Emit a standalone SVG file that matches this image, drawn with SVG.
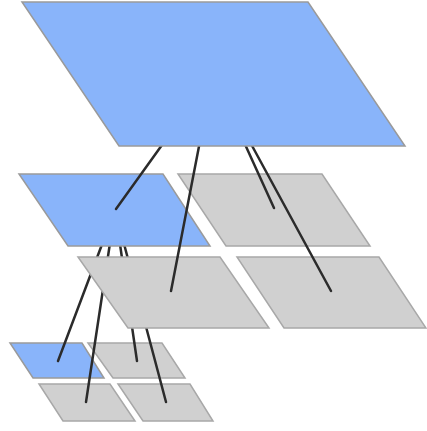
<svg xmlns="http://www.w3.org/2000/svg" width="427" height="431" viewBox="0 0 427 431">
<style>
.blue{fill:#89b4fa;stroke:#9a9a9a;stroke-width:1.5}
.gray{fill:#d0d0d0;stroke:#a8a8a8;stroke-width:1.5}
.link{stroke:#2b2b2b;stroke-width:2.5;stroke-linecap:round;fill:none}
</style>
<rect width="427" height="431" fill="#ffffff"/>
<g id="level3">
<g id="l3-a"><polygon class="blue" points="10,343 82,343 104,378 33,378"/></g>
<g id="l3-b"><polygon class="gray" points="88,343 162,343 185,378 113,378"/></g>
<g id="l3-c"><polygon class="gray" points="39,384 110,384 135,421 63,421"/></g>
<g id="l3-d"><polygon class="gray" points="118,384 190,384 213,421 143,421"/></g>
</g>
<g id="connectors-mid">
<line class="link" x1="115" y1="210" x2="58" y2="361"/>
<line class="link" x1="115" y1="210" x2="137" y2="361"/>
<line class="link" x1="115" y1="210" x2="86" y2="402"/>
<line class="link" x1="115" y1="210" x2="166" y2="402"/>
</g>
<g id="level2">
<g id="l2-a"><polygon class="blue" points="19,174 163,174 210,246 68,246"/></g>
<g id="l2-b"><polygon class="gray" points="178,174 322,174 370,246 226,246"/></g>
<g id="l2-c"><polygon class="gray" points="78,257 220,257 269,328 128,328"/></g>
<g id="l2-d"><polygon class="gray" points="237,257 379,257 426,328 284,328"/></g>
</g>
<g id="connectors-top">
<line class="link" x1="213" y1="74" x2="116" y2="209"/>
<line class="link" x1="213" y1="74" x2="171" y2="291"/>
<line class="link" x1="213" y1="74" x2="274" y2="208"/>
<line class="link" x1="213" y1="74" x2="331" y2="291"/>
</g>
<g id="level1">
<g id="l1-a"><polygon class="blue" points="22,2 308,2 405,146 119,146"/></g>
</g>
</svg>
